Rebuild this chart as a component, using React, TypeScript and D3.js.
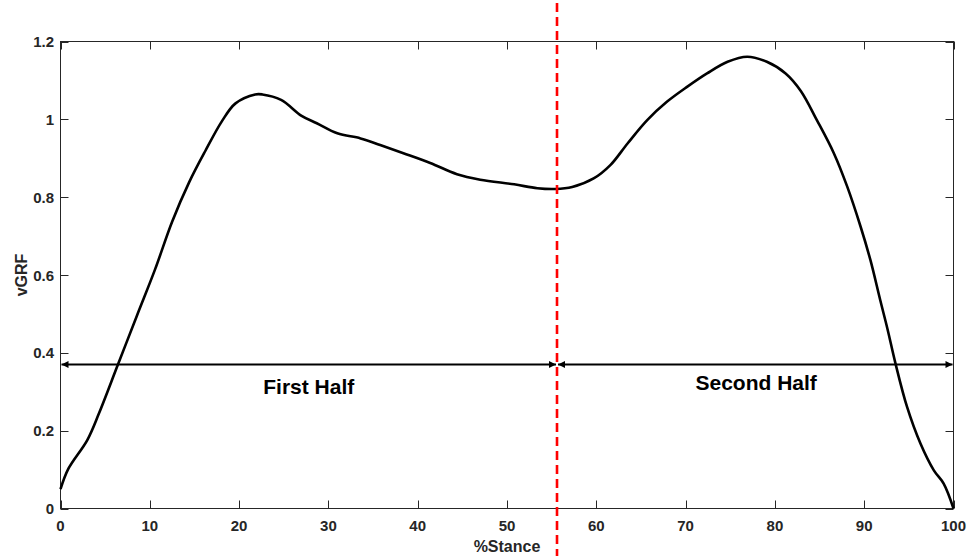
import React from "react";
import * as d3 from "d3";

const stanceX = [0, 0.9, 3.0, 4.3, 6.4, 8.6, 10.6, 12.5, 14.4, 16.2, 18.1, 19.6, 21.8, 22.6, 24.7, 27.0, 28.7, 31.0, 33.6, 35.8, 38.4, 41.4, 44.4, 47.0, 50.8, 53.4, 55.4, 57.3, 59.7, 61.6, 63.5, 65.7, 67.9, 70.2, 72.4, 74.7, 76.9, 79.1, 81.2, 82.9, 84.7, 86.6, 88.1, 89.6, 90.7, 91.8, 92.6, 93.5, 94.8, 96.3, 97.8, 98.9, 100];
const vgrf = [0.05, 0.103, 0.176, 0.244, 0.368, 0.498, 0.615, 0.737, 0.838, 0.918, 0.996, 1.041, 1.064, 1.064, 1.05, 1.009, 0.99, 0.964, 0.951, 0.934, 0.913, 0.888, 0.859, 0.845, 0.833, 0.823, 0.821, 0.826, 0.848, 0.883, 0.938, 0.998, 1.045, 1.084, 1.118, 1.148, 1.161, 1.148, 1.118, 1.073, 0.998, 0.913, 0.827, 0.724, 0.638, 0.535, 0.462, 0.373, 0.261, 0.167, 0.098, 0.064, 0];

const xTicks = [0, 10, 20, 30, 40, 50, 60, 70, 80, 90, 100];
const yTicks = [0, 0.2, 0.4, 0.6, 0.8, 1, 1.2];
const splitX = 55.6;
const arrowY = 0.37;
const halfLabels = ["First Half", "Second Half"];
const halfLabelX = [27.8, 77.9];
const halfLabelY = [0.295, 0.305];

const W = 971, H = 558;
const left = 60.5, right = 953.5, top = 41.5, bottom = 508.5;
const FONT = "'Liberation Sans', Arial, Helvetica, sans-serif";

export default function App() {
  const x = d3.scaleLinear().domain([0, 100]).range([left, right]);
  const y = d3.scaleLinear().domain([0, 1.2]).range([bottom, top]);
  const line = d3
    .line<number>()
    .x((_, i) => x(stanceX[i]))
    .y((d) => y(d))
    .curve(d3.curveCatmullRom.alpha(0.5));
  const path = line(vgrf) || "";
  const axisColor = "#262626";
  const tickLen = 8;
  const ay = y(arrowY);
  const xs = x(splitX);

  return (
    <svg width={W} height={H} style={{ position: "absolute", left: 0, top: 0, background: "#fff" }}>
      <defs>
        <marker id="ah" viewBox="0 0 10 10" refX="10" refY="5" markerWidth="9" markerHeight="7" markerUnits="userSpaceOnUse" orient="auto-start-reverse">
          <path d="M0,0 L10,5 L0,10 z" fill="#000" />
        </marker>
      </defs>
      <rect x={left} y={top} width={right - left} height={bottom - top} fill="#fff" />
      {xTicks.map((t) => (
        <g key={"x" + t}>
          <line x1={Math.round(x(t)) + 0.5} x2={Math.round(x(t)) + 0.5} y1={bottom} y2={bottom - tickLen} stroke={axisColor} />
          <line x1={Math.round(x(t)) + 0.5} x2={Math.round(x(t)) + 0.5} y1={top} y2={top + tickLen} stroke={axisColor} />
          <text x={x(t)} y={bottom + 22} textAnchor="middle" fontFamily={FONT} fontWeight="bold" fontSize={15} fill={axisColor}>
            {t}
          </text>
        </g>
      ))}
      {yTicks.map((t) => (
        <g key={"y" + t}>
          <line x1={left} x2={left + tickLen} y1={Math.round(y(t)) + 0.5} y2={Math.round(y(t)) + 0.5} stroke={axisColor} />
          <line x1={right} x2={right - tickLen} y1={Math.round(y(t)) + 0.5} y2={Math.round(y(t)) + 0.5} stroke={axisColor} />
          <text x={left - 6.5} y={y(t) + 5.5} textAnchor="end" fontFamily={FONT} fontWeight="bold" fontSize={15} fill={axisColor}>
            {t}
          </text>
        </g>
      ))}
      <rect x={left} y={top} width={right - left} height={bottom - top} fill="none" stroke={axisColor} strokeWidth={1} />
      <path d={path} fill="none" stroke="#000" strokeWidth={2.6} strokeLinejoin="round" />
      <line x1={xs - 1} x2={left + 1} y1={ay} y2={ay} stroke="#000" strokeWidth={2.2} markerEnd="url(#ah)" markerStart="url(#ah)" />
      <line x1={xs + 1} x2={right - 1} y1={ay} y2={ay} stroke="#000" strokeWidth={2.2} markerEnd="url(#ah)" markerStart="url(#ah)" />
      {halfLabels.map((l, i) => (
        <text key={l} x={x(halfLabelX[i])} y={y(halfLabelY[i])} textAnchor="middle" fontFamily={FONT} fontWeight="bold" fontSize={21} fill="#000">
          {l}
        </text>
      ))}
      <line x1={xs} x2={xs} y1={3} y2={556} stroke="#ff0000" strokeWidth={2.6} strokeDasharray="9,5" />
      <text x={(left + right) / 2} y={552} textAnchor="middle" fontFamily={FONT} fontWeight="bold" fontSize={16} fill={axisColor}>
        %Stance
      </text>
      <text transform={`translate(27, ${(top + bottom) / 2}) rotate(-90)`} textAnchor="middle" fontFamily={FONT} fontWeight="bold" fontSize={16} fill={axisColor}>
        vGRF
      </text>
    </svg>
  );
}
